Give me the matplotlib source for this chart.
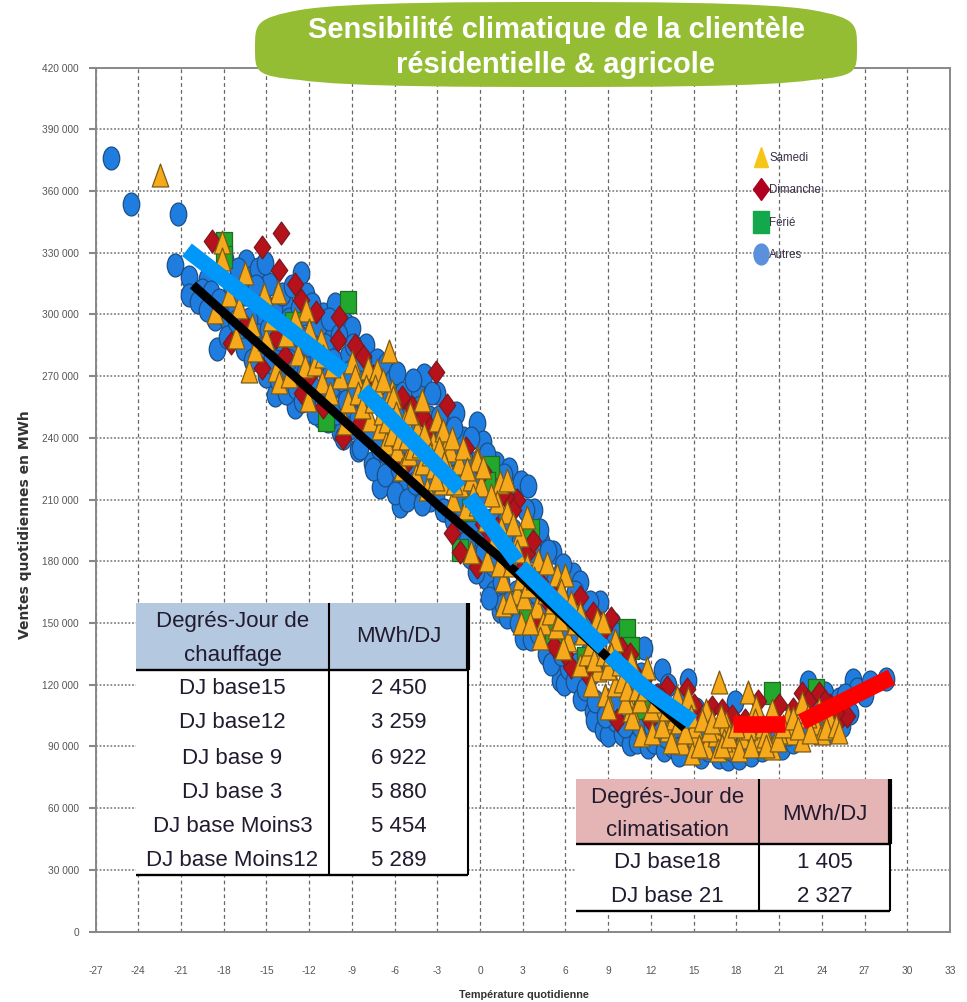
import matplotlib
matplotlib.use("Agg")
import matplotlib.pyplot as plt
from matplotlib.markers import MarkerStyle
from matplotlib.transforms import Affine2D
from matplotlib.patches import PathPatch, Rectangle
from matplotlib.path import Path
from matplotlib.lines import Line2D

plt.rcParams["axes.unicode_minus"] = False

# (temperature, sales in thousand MWh)
autres = [(-25.9,376),(-24.5,353.7),(-21.2,349),(-21.4,324),(-20.4,318),(-20.4,309.5),(-19.2,317),(-18.5,283),
(-19.5,312),(-19,303),(-18.6,298),(-18,300),(-17.6,296),(-17.9,327),(-17.2,305),(-16.9,291),(-16.4,326),(-16,318),
(-15.6,322),(-15.8,308),(-15.3,300),(-15.5,290),(-15,270),(-14.8,315),(-14.4,261),(-14.6,282),(-14,295),(-13.7,305),
(-13.3,285),(-13,255),(-13.1,272),(-12.6,320),(-12.4,300),(-12.2,310),(-12,280),(-11.7,292),(-11.5,262),(-11.2,250),
(-11,300),(-10.8,272),(-10.5,288),(-10.2,305),(-10,265),(-9.8,243),(-9.5,296),(-9.3,280),(-9,293.5),(-9,255),(-8.6,234),
(-8.5,272),(-8.3,248),(-8,285),(-7.8,262),(-7.6,228),(-7.4,240),(-7.2,278),(-7,216),(-6.9,255),(-6.6,276),(-6.5,232),
(-6.2,222),(-6.1,268),(-5.8,271.5),(-5.6,207),(-5.5,245),(-5.3,215),(-5,258),(-4.8,225),(-4.5,265),(-4.3,212),(-4,238),
(-3.9,270.5),(-3.6,250),(-3.5,210),(-3.2,222),(-3,262),(-2.8,238),(-2.5,205),(-2.3,248),(-2,218),(-1.7,252),(-1.5,195),
(-1.3,239),(-1.2,240),(-1,210),(-0.7,182),(-0.5,228),(-0.2,247),(0.2,238),(0,192),(0.4,172),(0.7,212),(1,165),(1.1,228),
(1.4,156),(1.6,158.7),(1.9,153),(2,225),(2.3,195),(2.5,165),(2.9,218.6),(3,142.7),(3.35,216.6),(3.6,142),(3.5,170),
(3.8,205),(4,150),(4.3,190),(4.6,135),(4.9,165),(5.1,184.5),(5.6,122.3),(5.4,172),(5.9,120.5),(6.2,128),(6.5,174),
(6.6,122),(7,170),(7.1,113),(7.6,135),(7.9,107),(8,103),(8.4,160),(8.6,98),(9,95.5),(9.3,150),(9.5,103),(10,96),(10.5,91),
(10.6,120),(11,92),(11.5,138),(11.8,89.7),(12.2,92),(12.8,127),(12.9,88),(13.5,90),(14,86),(14.6,122.3),(14.8,90),
(15.5,85),(16,88),(16.8,85),(17.4,84),(17.9,111.6),(18.2,84.4),(19,86),(19.8,88),(20.6,90),(21.2,89),(22,92),(23,121.3),
(23.4,114),(24.2,116),(24.5,97),(25.2,113),(25.4,100),(26.2,122.3),(26,106),(26.5,118),(27.4,121.3),(27,115),(28.5,123),
(-19.8,306),(-19.2,302),(-18.9,311),(-18.3,307),(-17.8,289),(-17.5,315),(-17.1,297),(-17,322),(-16.6,283),(-16.5,310),
(-16.2,298),(-16,278),(-15.7,314),(-15.4,283),(-15.2,305),(-15.1,325),(-14.9,293),(-14.7,277),(-14.5,302),(-14.2,268),
(-14.1,288),(-13.9,310),(-13.6,262),(-13.5,278),(-13.4,298),(-13.2,314),(-12.9,264),(-12.8,290),(-12.7,303),(-12.5,258),
(-12.3,272),(-12.1,285),(-11.9,265),(-11.8,305),(-11.6,252),(-11.4,278),(-11.3,295),(-11,258),(-10.9,285),(-10.7,248),
(-10.6,298),(-10.4,265),(-10.3,278),(-10.1,252),(-9.9,290),(-9.7,268),(-9.6,240),(-9.4,258),(-9.2,272),(-9.1,245),
(-8.9,285),(-8.8,262),(-8.6,250),(-8.4,235),(-8.2,278),(-8.1,255),(-7.9,242),(-7.7,270),(-7.5,225),(-7.3,258),(-7.1,235),
(-6.8,245),(-6.7,222),(-6.4,258),(-6.3,240),(-6,213),(-5.9,250),(-5.7,225),(-5.4,262),(-5.2,238),(-5.1,210),(-4.9,245),
(-4.7,268),(-4.6,218),(-4.4,232),(-4.2,255),(-4.1,208),(-3.8,222),(-3.7,240),(-3.4,262),(-3.3,232),(-3.1,212),(-2.9,250),
(-2.7,225),(-2.6,205),(-2.4,240),(-2.1,232),(-1.9,200),(-1.8,245),(-1.6,222),(-1.4,208),(-1.1,230),(-0.9,190),(-0.8,218),
(-0.6,240),(-0.4,200),(-0.3,175),(-0.1,222),(0.1,212),(0.3,185),(0.5,232),(0.6,162),(0.8,200),(0.9,178),(1.2,215),(1.3,188),
(1.5,170),(1.7,222),(1.8,200),(2.1,160),(2.2,182),(2.4,210),(2.7,150),(2.8,190),(3.1,170),(3.2,205),(3.4,155),(3.7,185),
(3.9,165),(4.1,145),(4.2,195),(4.4,175),(4.7,155),(4.8,185),(5,130),(5.2,170),(5.3,148),(5.7,135),(5.8,178),(6,158),(6.3,145),
(6.7,165),(6.8,130),(7.2,152),(7.4,118),(7.7,160),(7.8,125),(8.1,112),(8.3,140),(8.8,105),(9.1,128),(9.4,145),(9.7,112),
(10.2,100),(10.4,130),(10.8,105),(11.2,100),(11.3,125),(11.7,110),(12.1,100),(12.5,115),(13,95),(13.2,120),(13.7,100),
(14.2,112),(15,92),(15.2,108),(15.8,95),(16.4,92),(17,90),(17.7,88),(18.5,90),(19.3,92),(20.1,93),(20.9,95),(21.7,96),
(22.5,96),(23.2,100),(23.8,105),(24.8,108),(25.6,115)]

ferie = [(-18,334.7),(-18,328),(-9.3,306),(-13.1,295.8),(-10.8,248.7),(0.8,226),(3.6,195),(-1.4,185.5),(10.3,146.6),
(10.6,137.9),(20.5,116),(23.6,117.4),(0.5,218),(-0.7,205),(5.1,145),(3.3,152),(7.4,133),(11.4,108.6)]

dimanche = [(-18.8,335.7),(-15.3,333),(-14,339.7),(-14.1,321.6),(-13,315),(-12.6,307),(-11.5,301),(-10,287.6),(-9.9,298.6),
(-15.3,274),(-17.5,286),(-14.3,289),(-8.2,280),(-8.4,247),(-9.6,240),(-3.1,272),(-2.3,256),(-4.8,255),(-4,250),
(2.6,209.6),(0.2,224),(-1.4,184.5),(-2,193.6),(7,162.6),(9.2,152.4),(5.2,139),(3.9,150),(6.4,128.7),(9.6,102.9),
(25.2,103),(23.8,116),(22.6,116),(16.3,109),(13.1,119),(3.3,184),(-0.2,177.4),(11.9,103),(17,107.6),(-12.5,262),
(-6,240),(-5.2,228),(1.8,211),(1.2,196),(0.2,198),(4.8,160),(8,145),(10.9,125),(12.4,115),(15.4,104),(18.6,103),
(20,99),(21.4,97),(24.6,110),(25.8,105),
(-16.5,295),(-13.7,280),(-12,270),(-11,255),(-8.8,285),(-7.5,270),(-6.5,252),(-5.5,260),(-3.5,245),(-1,235),(0.6,190),
(1.5,212),(2.3,205),(2.8,175),(3.7,190),(4.2,170),(5.5,165),(6.1,158),(7.9,155),(8.7,147),(9.9,138),(10.5,135),(11.5,123),
(12.8,113),(13.8,107),(14.5,118),(15,110),(17.7,105),(19.5,112),(21,110),(22,108),(23,112),(24.2,112),(25,106),(6,135),(7.5,125)]

samedi = [(-22.5,368),(-18.1,335),(-18.1,327),(-16.5,320),(-14.2,311),(-12.2,302),(-16.2,272.6),(-17.6,309.6),(-16.9,303.5),
(-18.6,301),(-17.1,289),(-15.8,282.7),(-14.3,273),(-14.1,267),(-12.8,281),(-12.3,275),(-11.6,276),(-12,292.5),(-11.2,287.6),
(-11.1,267),(-9,277),(-9.8,269.6),(-7.9,274),(-7.2,273),(-6.4,282),(-12.1,258.4),(-9.5,247),(-7.7,248.7),(-7,245),
(-6.2,263),(-6.1,260),(-4.1,258.4),(-3,248.7),(-2.7,243),(-2.4,235.6),(-0.2,230.7),(-6.6,237.5),(-5.8,234),(-3.3,237.5),
(-4.4,243.9),(-5.5,225),(-5,232),(-4.5,222),(-4,228),(-3.7,215),(-3.2,226),(-2.7,218),(-2.2,224),(-1.9,210),(-1.4,217),
(-1,206),(-0.6,220),(-2.6,243.8),(-2.1,234),(-1.5,227.6),(-0.2,229),(1.4,218.6),(1.9,219.6),(0.1,217),(1.2,208.7),
(1.9,204),(3.3,201.6),(2.8,192.7),(-0.6,184.5),(0.5,180.6),(1.6,170.8),(1.6,158.7),(2.6,164.6),(3.1,162),(4,157.7),
(4.4,150),(4.2,142.7),(4.1,180.6),(4.7,179),(5.4,173.3),(6,173.3),(5.7,166),(6.2,141.7),(5.8,137.8),(7,129.5),(8.2,151.5),
(8.6,150.5),(9.5,141.7),(8.3,127),(7.8,120),(8.8,115),(9.5,120),(9,108.6),(10.6,107.6),(10.7,103.8),(10.2,111.6),
(10.6,131),(11.7,128),(11.3,95.6),(12.1,96.4),(13.2,98),(13.8,114),(14.6,113.5),(12.6,107.7),(14.2,91.7),(15.2,95.6),
(14.9,86.8),(15.9,107.7),(15.9,89.7),(16.6,95.6),(16.7,88.3),(16.8,121.4),(17.7,89.7),(17.3,101.4),(18.8,116.4),
(19.4,109),(18.4,94.6),(19.6,93),(20.5,89),(20.5,107.7),(21.6,104.2),(21.9,96.4),(22.6,111),(22.6,93),(23.5,101.4),
(24,96.4),(24.5,104.2),(16.1,98),(17.1,93),(18.9,99),(19.9,100),(21,97),(23,105),(13.6,104),(15,100),
(-16,295),(-15.2,310),(-15,288),(-14.7,298),(-13.6,290),(-13.4,270),(-13,298),(-11,280),(-10.5,262),(-10.4,275),(-9.3,258),
(-8.8,270),(-8.6,262),(-8.3,255),(-8,265),(-7.5,258),(-7.4,265),(-6.9,252),(-6.8,268),(-6.5,248),(-6.2,242),(-5.9,252),
(-5.6,240),(-5.3,248),(-5.1,240),(-4.9,252),(-4.7,235),(-4.2,236),(-3.9,242),(-3.5,232),(-3.1,220),(-2.9,235),(-2.5,228),
(-2,240),(-1.8,218),(-1.2,235),(-0.9,225),(-0.5,212),(-0.2,208),(0.2,226),(0.4,200),(0.8,212),(1,190),(1.5,196),(1.3,178),
(1.8,186),(2.2,178),(2.3,198),(2.6,185),(2.9,172),(3.3,178),(3.4,168),(3.8,172),(2.1,160),(2.9,150),(3.5,150),(4.6,165),
(4.9,155),(5.1,160),(5.3,148),(5.6,152),(6.4,160),(6.7,150),(7,155),(7.2,145),(7.5,135),(7.8,140),(8,132),(8.7,135),(9,128),
(9.2,135),(9.8,130),(10,122),(10.3,118),(11,118),(11.2,112),(11.6,118),(12,108),(12.3,112),(12.8,100),(13.1,108),(13.4,92),
(14,102),(14.4,97),(14.8,105),(15.4,90),(15.6,103),(16.3,102),(16.9,105),(17,90),(17.5,95),(18,100),(18.2,88),(19,90),
(19.3,103),(20,95),(20.1,90),(20.9,93),(21.3,100),(22,104),(22.3,99),(23.2,97),(23.8,108),(24.3,99),(25,100),(25.2,97)]

seg_blue = [([-20.58,-9.56],[331.4,272.0]),([-8.23,-1.42],[263.3,215.2]),([-0.79,2.58],[211.3,180.1]),
            ([2.86,8.68],[177.2,137.8]),([9.11,11.56,14.93],[134.4,118.4,101.9])]
seg_black = ([-20.16,-2.82,1.6,8.61,14.37],[314.3,206.4,180.6,135.4,98.9])
seg_red = [([17.74,21.39],[100.9,100.9]),([22.58,28.9],[101.9,123.7])]

x_ticks = list(range(-27,34,3))
y_ticks = list(range(0,420001,30000))
y_labels = [f"{v//1000} 000" if v else "0" for v in y_ticks]

title_lines = ["Sensibilité climatique de la clientèle","résidentielle & agricole"]
legend_labels = ["Samedi","Dimanche","Férié","Autres"]
heat_header = ["Degrés-Jour de\nchauffage","MWh/DJ"]
heat_rows = ["DJ base15","DJ base12","DJ base 9","DJ base 3","DJ base Moins3","DJ base Moins12"]
heat_vals = ["2 450","3 259","6 922","5 880","5 454","5 289"]
cool_header = ["Degrés-Jour de\nclimatisation","MWh/DJ"]
cool_rows = ["DJ base18","DJ base 21"]
cool_vals = ["1 405","2 327"]

W,H = 967,1002
fig = plt.figure(figsize=(W/100,H/100),dpi=100,facecolor="white")
L,R,T,B = 95.5,950,67.6,931.5
ax = fig.add_axes([L/W,1-B/H,(R-L)/W,(B-T)/H])
ax.set_xlim(-27,33); ax.set_ylim(0,420000)
ax.set_xticks(x_ticks); ax.set_yticks(y_ticks); ax.set_yticklabels(y_labels)
ax.set_axisbelow(True)
ax.grid(axis="x",color="#666666",lw=0.9,ls=(0,(3,2.5)))
ax.grid(axis="y",color="#888888",lw=1.3,ls=(0,(1,1)))
for s in ax.spines.values():
    s.set_color("#888888"); s.set_linewidth(1.4)
ax.tick_params(axis="y",length=5,width=1.5,color="#888888",pad=7,labelsize=7.3,labelcolor="#555555")
ax.tick_params(axis="x",length=0,pad=25,labelsize=7.3,labelcolor="#555555")
for t in ax.get_xticklabels()+ax.get_yticklabels():
    t.set_fontfamily("Liberation Sans")

squash = Affine2D().scale(0.72,1)
def mk(m): return MarkerStyle(m,transform=squash)
def draw(pts,m,s,fc,ec,z):
    ax.scatter([p[0] for p in pts],[p[1]*1000 for p in pts],marker=mk(m),s=s,facecolor=fc,edgecolor=ec,linewidth=0.9,zorder=z,clip_on=False)
draw(autres,"o",272,"#1F7DDF","#1D4E85",3)
draw(ferie,"s",272,"#22A82C","#1F6B22",4)
draw(dimanche,"D",136,"#B5121B","#7A1A20",5)
draw(samedi,"^",272,"#F6A91B","#7C5A14",6)

for xs,ys in [seg_black]:
    ax.plot(xs,[v*1000 for v in ys],color="black",lw=6.5,solid_capstyle="butt",solid_joinstyle="miter",zorder=7)
for xs,ys in seg_blue:
    ax.plot(xs,[v*1000 for v in ys],color="#0098F8",lw=11.5,solid_capstyle="butt",solid_joinstyle="miter",zorder=8)
for xs,ys in seg_red:
    ax.plot(xs,[v*1000 for v in ys],color="#FF0000",lw=12,solid_capstyle="butt",zorder=8)

fig.text(25/W,1-525/H,"Ventes quotidiennes en MWh",rotation=90,ha="center",va="center",fontsize=10,fontweight="bold",color="#333333",family="DejaVu Sans")
fig.text(524/W,1-995/H,"Température quotidienne",ha="center",va="center",fontsize=7.8,fontweight="bold",color="#333333",family="Liberation Sans")

m_size = {"^":15,"D":11,"s":16,"o":15}
def lm(m,c): return Line2D([],[],ls="",marker=mk(m),markersize=m_size[m],markerfacecolor=c,markeredgecolor=c)
handles = [lm("^","#F5C518"),lm("D","#B00020"),lm("s","#12A84B"),lm("o","#5A90DC")]
leg = ax.legend(handles,legend_labels,loc="upper left",bbox_to_anchor=(755/W,1-152/H),bbox_transform=fig.transFigure,
          frameon=False,labelspacing=1.76,handlelength=1.0,handletextpad=0.25,borderpad=0,borderaxespad=0,
          prop={"family":"Liberation Sans","size":8.3},labelcolor="#3A3048")
leg.set_zorder(9)

ov = fig.add_axes([0,0,1,1],zorder=10,facecolor="none")
ov.set_xlim(0,W); ov.set_ylim(H,0); ov.axis("off")

verts = [(255,48),(255,24),(255,18),(300,10),(345,2),(480,2),(556,2),(632,2),(767,2),(812,10),(857,18),(857,24),(857,48),
         (857,72),(857,76),(812,80),(767,87),(632,87),(556,87),(480,87),(345,87),(300,80),(255,76),(255,72),(255,48)]
codes = [Path.MOVETO]+[Path.CURVE4]*24
ov.add_patch(PathPatch(Path(verts,codes),facecolor="#95BD33",edgecolor="none"))
for line,y in zip(title_lines,[30,65]):
    ov.text(556,y,line,ha="center",va="center",color="white",fontsize=21,fontweight="bold",family="Liberation Sans")

def table(x0,xs,x1,y0,yh,y1,color,header,rows,vals,head_ys,mid_y,row_ys):
    ov.add_patch(Rectangle((x0,y0),x1-x0,y1-y0,facecolor="white",edgecolor="none"))
    ov.add_patch(Rectangle((x0,y0),x1-x0,yh-y0,facecolor=color,edgecolor="none"))
    kw = dict(ha="center",va="center",fontsize=16,family="Liberation Sans",color="#221A2E")
    cx1,cx2 = (x0+xs)/2,(xs+x1)/2
    for part,y in zip(header[0].split("\n"),head_ys):
        ov.text(cx1,y+2,part,**kw)
    ov.text(cx2,mid_y+1,header[1],**kw)
    for a,b,y in zip(rows,vals,row_ys):
        ov.text(cx1,y+2,a,**kw); ov.text(cx2,y+2,b,**kw)
    lk = dict(color="black",solid_capstyle="butt")
    ov.plot([xs,xs],[y0,y1],lw=1.5,**lk)
    ov.plot([x0,x1],[yh,yh],lw=1.7,**lk)
    ov.plot([x0,x1],[y1,y1],lw=1.7,**lk)
    ov.plot([x1,x1],[y0,yh],lw=3,**lk)
    ov.plot([x1,x1],[yh,y1],lw=1.5,**lk)

table(136,329,468,603,670,875,"#B4C8E0",heat_header,heat_rows,heat_vals,[620,653],635,[687,721,756,790,825,858])
table(576,759,890,779,844,911,"#E5B5B5",cool_header,cool_rows,cool_vals,[796,829],813,[861,895])

fig.savefig("out.png",dpi=100)
